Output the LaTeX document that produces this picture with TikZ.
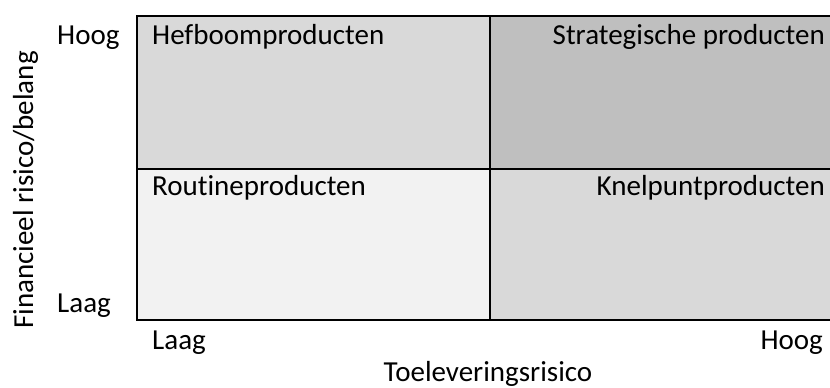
\documentclass[tikz,border=0pt]{standalone}
\usepackage{fontspec}
\setmainfont{Carlito}[Ligatures=NoCommon]
\usetikzlibrary{positioning}

\definecolor{lichtgrijs}{HTML}{F2F2F2}
\definecolor{middengrijs}{HTML}{D9D9D9}
\definecolor{donkergrijs}{HTML}{BFBFBF}

\tikzset{
  cel/.style={draw, line width=2pt, rectangle, inner sep=0pt, anchor=north west},
  tekst/.style={inner sep=0pt, font=\fontsize{29}{34}\selectfont},
}

\begin{document}
\begin{tikzpicture}[x=1pt, y=-1pt]
\useasboundingbox (0,0) rectangle (830,388);
% kwadranten
\node[cel, fill=middengrijs, minimum width=353pt, minimum height=153pt] (hefboom) at (136,15) {};
\node[cel, fill=donkergrijs, minimum width=351pt, minimum height=153pt] (strategisch) at (489,15) {};
\node[cel, fill=lichtgrijs, minimum width=353pt, minimum height=151pt] (routine) at (136,168) {};
\node[cel, fill=middengrijs, minimum width=351pt, minimum height=151pt] (knelpunt) at (489,168) {};
% namen
\node[tekst, anchor=base west] (hefboomtxt) at ([shift={(16,29)}]hefboom.north west) {Hefboomproducten};
\node[tekst, anchor=base east] (strategischtxt) at ([shift={(-17,29)}]strategisch.north east) {Strategische producten};
\node[tekst, anchor=base west] (routinetxt) at ([shift={(16,27)}]routine.north west) {Routineproducten};
\node[tekst, anchor=base east] (knelpunttxt) at ([shift={(-17,27)}]knelpunt.north east) {Knelpuntproducten};
% assen
\node[tekst, anchor=base west] (yhoog) at (57,44) {Hoog};
\node[tekst, anchor=base west] (ylaag) at (57,312) {Laag};
\node[tekst, anchor=base west] (xlaag) at (152,349) {Laag};
\node[tekst, anchor=base east] (xhoog) at (823,349) {Hoog};
\node[tekst, anchor=base] (xas) at (488,381) {Toeleveringsrisico};
\node[tekst, anchor=base, rotate=90] (yas) at (33,190) {Financieel risico/belang};
\end{tikzpicture}
\end{document}
